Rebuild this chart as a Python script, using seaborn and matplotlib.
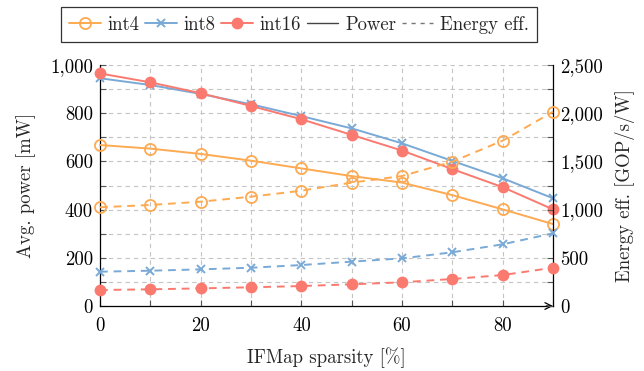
import numpy as np
import pandas as pd
import matplotlib
matplotlib.use("Agg")
import matplotlib.pyplot as plt
import seaborn as sns
from matplotlib.lines import Line2D
from matplotlib.ticker import FixedLocator, FixedFormatter

sparsity = [0, 10, 20, 30, 40, 50, 60, 70, 80, 90]

power_int4 = [668, 653, 631, 603, 571, 539, 512, 460, 401, 340]
power_int8 = [945, 917, 880, 837, 788, 737, 675, 602, 530, 447]
power_int16 = [965, 928, 883, 830, 775, 710, 645, 568, 493, 401]

eff_int4 = [1024, 1048, 1082, 1134, 1196, 1280, 1348, 1497, 1715, 2015]
eff_int8 = [356, 366, 380, 397, 425, 460, 494, 557, 640, 754]
eff_int16 = [166, 173, 183, 194, 207, 225, 246, 280, 321, 397]

series_names = ["int4", "int8", "int16"]
x_ticklabels = ["0", "20", "40", "60", "80"]
left_ticklabels = ["0", "200", "400", "600", "800", "1,000"]
right_ticklabels = ["0", "500", "1,000", "1,500", "2,000", "2,500"]

sns.set_theme(style="white")
plt.rcParams["font.family"] = ["cmr10", "DejaVu Serif"]
plt.rcParams["axes.unicode_minus"] = False
plt.rcParams["mathtext.fontset"] = "cm"

colors = {"int4": "#FDAA52", "int8": "#79A9D6", "int16": "#FA7A70"}
marker_kw = {
    "int4": dict(marker="o", markersize=8, markerfacecolor="none",
                 markeredgewidth=1.3),
    "int8": dict(marker="x", markersize=5.5, markeredgewidth=1.4),
    "int16": dict(marker="o", markersize=8.5, markeredgewidth=0),
}

fig = plt.figure(figsize=(6.44, 3.71), dpi=100)
ax = fig.add_axes([100 / 644, 1 - 306 / 371, (553 - 100) / 644, (306 - 65) / 371])
ax2 = ax.twinx()

power = {"int4": power_int4, "int8": power_int8, "int16": power_int16}
eff = {"int4": eff_int4, "int8": eff_int8, "int16": eff_int16}

fs = 13.5
for name in series_names:
    c = colors[name]
    mk = dict(marker_kw[name])
    if name == "int16":
        mk["markerfacecolor"] = c
    mk["markeredgecolor"] = c
    sns.lineplot(x=sparsity, y=power[name], ax=ax, color=c, lw=1.4,
                 linestyle="-", clip_on=False, zorder=3, **mk)
    sns.lineplot(x=sparsity, y=eff[name], ax=ax2, color=c, lw=1.4,
                 linestyle=(0, (4, 3)), clip_on=False, zorder=3, **mk)

ax.set_xlim(0, 90)
ax.set_ylim(0, 1000)
ax2.set_ylim(0, 2500)

# grid
for xv in range(10, 91, 10):
    ax.axvline(xv, color="#c4c4c4", lw=0.8, ls=(0, (4, 3.5)), zorder=0)
for yv in range(100, 1001, 100):
    ax.axhline(yv, color="#c4c4c4", lw=0.8, ls=(0, (4, 3.5)), zorder=0)

ax.xaxis.set_major_locator(FixedLocator([0, 20, 40, 60, 80]))
ax.xaxis.set_major_formatter(FixedFormatter(x_ticklabels))
ax.xaxis.set_minor_locator(FixedLocator([10, 30, 50, 70, 90]))
ax.yaxis.set_major_locator(FixedLocator([0, 200, 400, 600, 800, 1000]))
ax.yaxis.set_major_formatter(FixedFormatter(left_ticklabels))
ax.yaxis.set_minor_locator(FixedLocator([100, 300, 500, 700, 900]))
ax2.yaxis.set_major_locator(FixedLocator([0, 500, 1000, 1500, 2000, 2500]))
ax2.yaxis.set_major_formatter(FixedFormatter(right_ticklabels))
ax2.yaxis.set_minor_locator(FixedLocator([250, 750, 1250, 1750, 2250]))

for a in (ax, ax2):
    a.tick_params(which="both", direction="in", length=4, width=0.8,
                  color="#555555", labelsize=fs, labelcolor="black")
ax.tick_params(axis="x", which="both", bottom=True, top=False, pad=8)
ax.tick_params(axis="y", which="both", left=True, right=False, pad=5)
ax2.tick_params(axis="y", which="both", right=True, left=False, pad=5)

for a in (ax, ax2):
    a.spines["top"].set_visible(False)
    for s in ("left", "right", "bottom"):
        a.spines[s].set_color("black")
        a.spines[s].set_linewidth(0.9)
ax.spines["right"].set_visible(False)
ax2.spines["left"].set_visible(False)
ax2.spines["bottom"].set_visible(False)

# arrow at end of x axis
ax.annotate("", xy=(1.0, 0), xycoords="axes fraction", xytext=(0.985, 0),
            arrowprops=dict(arrowstyle="->", color="black", lw=0.9,
                            shrinkA=0, shrinkB=0), zorder=5, annotation_clip=False)

ax.set_xlabel("IFMap sparsity [%]", fontsize=fs, labelpad=9)
ax.set_ylabel("Avg. power [mW]", fontsize=fs, labelpad=10)
ax2.set_ylabel("Energy eff. [GOP/s/W]", fontsize=fs, labelpad=9)

handles = []
for name in series_names:
    c = colors[name]
    mk = dict(marker_kw[name])
    if name == "int16":
        mk["markerfacecolor"] = c
    mk["markeredgecolor"] = c
    handles.append(Line2D([], [], color=c, lw=1.4, **mk))
handles.append(Line2D([], [], color="#444444", lw=1.0))
handles.append(Line2D([], [], color="#777777", lw=1.0, ls=(0, (3, 3.5))))
labels = series_names + ["Power", "Energy eff."]
leg = fig.legend(handles, labels, loc="center", bbox_to_anchor=(299 / 644, 1 - 24.5 / 371),
                 ncol=5, frameon=True, fancybox=False, fontsize=fs,
                 handlelength=1.7, handletextpad=0.35, columnspacing=0.3,
                 borderpad=0.45, edgecolor="black")
leg.get_frame().set_linewidth(0.9)

fig.savefig("out.png", dpi=100)
